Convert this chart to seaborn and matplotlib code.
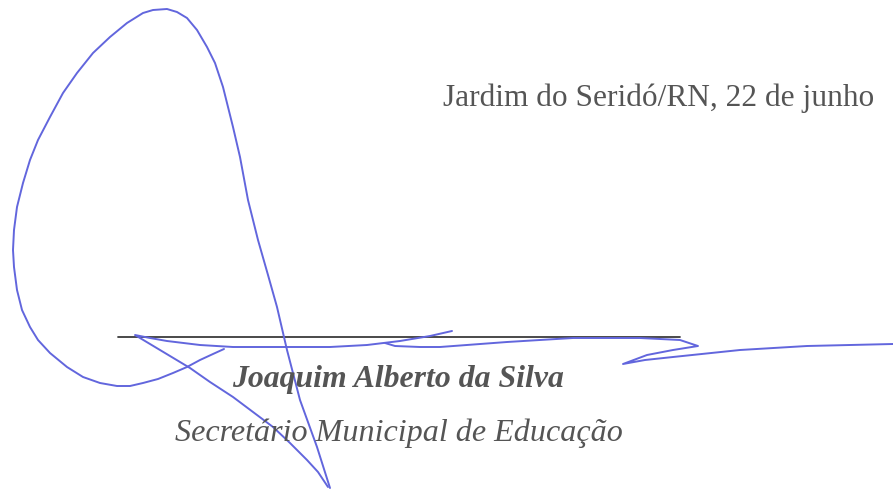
import numpy as np
import pandas as pd
import matplotlib.pyplot as plt
import seaborn as sns

# signature strokes, traced in page pixels (y grows downward)
stroke1_x = [330, 317, 300, 287, 277, 268, 258, 248, 240, 233, 223, 215, 207, 197, 187, 177, 167, 153, 143, 127, 110, 93, 77, 63, 50, 38, 30, 23, 17, 14, 13,
             14, 17, 22, 30, 38, 50, 67, 83, 100, 117, 130, 143, 158, 173, 187, 200, 213, 224]
stroke1_y = [488, 447, 400, 350, 307, 275, 240, 200, 157, 127, 87, 63, 47, 30, 18, 12, 9, 10, 13, 23, 37, 53, 73, 93, 117, 140, 160, 183, 207, 230, 250,
             267, 290, 310, 327, 340, 353, 367, 377, 383, 386, 386, 383, 379, 373, 367, 360, 354, 349]

stroke2_x = [328, 318, 307, 290, 273, 253, 233, 210, 190, 160, 135, 150, 167, 200, 233, 283, 330, 367, 400, 430, 452]
stroke2_y = [487, 472, 460, 443, 427, 412, 397, 382, 368, 350, 335, 338, 341, 345, 347, 347, 347, 345, 341, 336, 331]

stroke3_x = [385, 395, 420, 440, 507, 573, 640, 680, 698, 673, 647, 623, 645, 673, 740, 807, 893]
stroke3_y = [343, 346, 347, 347, 342, 338, 338, 340, 346, 350, 355, 364, 360, 357, 350, 346, 344]

rule_x = [118, 680]
rule_y = [337, 337]

place_date = "Jardim do Seridó/RN, 22 de junho"
signer = "Joaquim Alberto da Silva"
role = "Secretário Municipal de Educação"

strokes = pd.concat([
    pd.DataFrame({"x": stroke1_x, "y": stroke1_y, "stroke": 1}),
    pd.DataFrame({"x": stroke2_x, "y": stroke2_y, "stroke": 2}),
    pd.DataFrame({"x": stroke3_x, "y": stroke3_y, "stroke": 3}),
])
rule = pd.DataFrame({"x": rule_x, "y": rule_y})

sns.set_style("white")
plt.rcParams["font.family"] = ["Liberation Serif", "DejaVu Serif"]

fig = plt.figure(figsize=(8.93, 4.91), dpi=100)
ax = fig.add_axes([0, 0, 1, 1])

sns.lineplot(data=rule, x="x", y="y", color="#3c3c3c", lw=1.3, sort=False, ax=ax)
sns.lineplot(data=strokes, x="x", y="y", units="stroke", estimator=None, sort=False,
             color="#6266dd", lw=1.4, ax=ax)

gray = "#555555"
ax.text(443, 106, place_date, fontsize=22.6, color=gray, ha="left", va="baseline")
ax.text(232, 387, signer, fontsize=22.9, color=gray, ha="left", va="baseline",
        fontweight="bold", fontstyle="italic")
ax.text(175, 441, role, fontsize=23.1, color=gray, ha="left", va="baseline",
        fontstyle="italic")

ax.set_xlim(0, 893)
ax.set_ylim(491, 0)
ax.axis("off")

fig.savefig("out.png", dpi=100)
